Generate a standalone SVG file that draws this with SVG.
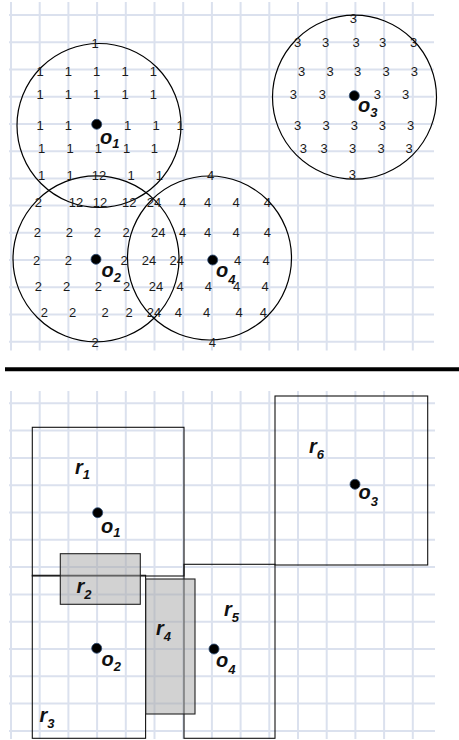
<svg xmlns="http://www.w3.org/2000/svg" width="459" height="740" viewBox="0 0 459 740">
<defs>
<style>
.g{stroke:#dbe1ee;stroke-width:2;fill:none}
.c{fill:none;stroke:#000;stroke-width:1.2}
.n{font-family:"Liberation Sans",Arial,sans-serif;font-size:13px;fill:#1a1a1a;text-anchor:middle}
.l{font-family:"Liberation Sans",Arial,sans-serif;font-size:20px;font-weight:bold;font-style:italic;fill:#111}
.s{font-size:13px}
.d{fill:#000;stroke:#2b4a74;stroke-width:0.8}
.r{fill:none;stroke:#111;stroke-width:1.1}
.h{fill:#a6a6a6;fill-opacity:0.5;stroke:#222;stroke-width:1.1}
</style>
</defs>
<rect width="459" height="740" fill="#fff"/>
<g id="grid-top">
<path class="g" d="M11 2V350.5M39.7 2V350.5M68.4 2V350.5M97.1 2V350.5M125.8 2V350.5M154.5 2V350.5M183.2 2V350.5M211.9 2V350.5M240.6 2V350.5M269.3 2V350.5M298 2V350.5M326.7 2V350.5M355.4 2V350.5M384.1 2V350.5M412.8 2V350.5"/>
<path class="g" d="M9 15H434M9 42.2H434M9 69.5H434M9 96.7H434M9 123.9H434M9 151.2H434M9 178.4H434M9 205.6H434M9 232.8H434M9 260.1H434M9 287.3H434M9 314.5H434M9 341.8H434"/>
</g>
<g id="grid-bottom">
<path class="g" d="M11 391V739M39.7 391V739M68.4 391V739M97.1 391V739M125.8 391V739M154.5 391V739M183.2 391V739M211.9 391V739M240.6 391V739M269.3 391V739M298 391V739M326.7 391V739M355.4 391V739M384.1 391V739M412.8 391V739"/>
<path class="g" d="M9 403.3H435M9 430.6H435M9 457.9H435M9 485.2H435M9 512.5H435M9 539.8H435M9 567.1H435M9 594.4H435M9 621.7H435M9 649H435M9 676.3H435M9 703.6H435M9 730.9H435"/>
</g>
<g id="circles">
<circle class="c" cx="99" cy="125.5" r="82"/>
<circle class="c" cx="354.5" cy="97.2" r="82"/>
<circle class="c" cx="96" cy="258.8" r="83"/>
<circle class="c" cx="209.5" cy="258" r="82"/>
</g>
<g id="numbers">
<text class="n" x="95" y="48">1</text>
<text class="n" x="40" y="75.7">1</text><text class="n" x="68.3" y="75.7">1</text><text class="n" x="96.7" y="75.7">1</text><text class="n" x="125" y="75.7">1</text><text class="n" x="153.3" y="75.7">1</text>
<text class="n" x="40" y="99">1</text><text class="n" x="68.3" y="99">1</text><text class="n" x="96.7" y="99">1</text><text class="n" x="125" y="99">1</text><text class="n" x="153.3" y="99">1</text>
<text class="n" x="40" y="129.7">1</text><text class="n" x="68.3" y="129.7">1</text><text class="n" x="127.7" y="129.7">1</text><text class="n" x="156" y="129.7">1</text><text class="n" x="180" y="129.7">1</text>
<text class="n" x="41.7" y="153">1</text><text class="n" x="70" y="153">1</text><text class="n" x="98.3" y="153">1</text><text class="n" x="126.7" y="153">1</text><text class="n" x="154.3" y="153">1</text>
<text class="n" x="41.7" y="179.7">1</text><text class="n" x="70" y="179.7">1</text><text class="n" x="99" y="179.7">12</text><text class="n" x="131" y="179.7">1</text><text class="n" x="159.3" y="179.7">1</text><text class="n" x="210.5" y="179.7">4</text>
<text class="n" x="38.3" y="207.4">2</text><text class="n" x="76" y="207.4">12</text><text class="n" x="100" y="207.4">12</text><text class="n" x="129.3" y="207.4">12</text><text class="n" x="154" y="207.4">24</text><text class="n" x="182.7" y="207.4">4</text><text class="n" x="207.5" y="207.4">4</text><text class="n" x="236" y="207.4">4</text><text class="n" x="267.3" y="207.4">4</text>
<text class="n" x="37.3" y="237.4">2</text><text class="n" x="69.3" y="237.4">2</text><text class="n" x="97.3" y="237.4">2</text><text class="n" x="126" y="237.4">2</text><text class="n" x="158.3" y="237.4">24</text><text class="n" x="182.7" y="237.4">4</text><text class="n" x="207.5" y="237.4">4</text><text class="n" x="236" y="237.4">4</text><text class="n" x="267.3" y="237.4">4</text>
<text class="n" x="36.7" y="264.7">2</text><text class="n" x="68.3" y="264.7">2</text><text class="n" x="124" y="264.7">2</text><text class="n" x="149" y="264.7">24</text><text class="n" x="176.7" y="264.7">24</text><text class="n" x="237.7" y="264.7">4</text><text class="n" x="266" y="264.7">4</text>
<text class="n" x="38.3" y="291.4">2</text><text class="n" x="66.7" y="291.4">2</text><text class="n" x="98.3" y="291.4">2</text><text class="n" x="126.7" y="291.4">2</text><text class="n" x="156" y="291.4">24</text><text class="n" x="180" y="291.4">4</text><text class="n" x="208.3" y="291.4">4</text><text class="n" x="236.7" y="291.4">4</text><text class="n" x="265" y="291.4">4</text>
<text class="n" x="44.3" y="317.4">2</text><text class="n" x="72.7" y="317.4">2</text><text class="n" x="105" y="317.4">2</text><text class="n" x="129" y="317.4">2</text><text class="n" x="154" y="317.4">24</text><text class="n" x="178.3" y="317.4">4</text><text class="n" x="206.7" y="317.4">4</text><text class="n" x="239" y="317.4">4</text><text class="n" x="263.3" y="317.4">4</text>
<text class="n" x="95" y="347.4">2</text><text class="n" x="212.3" y="347.4">4</text>
<text class="n" x="353.3" y="23">3</text>
<text class="n" x="297.7" y="47.4">3</text><text class="n" x="325.7" y="47.4">3</text><text class="n" x="356" y="47.4">3</text><text class="n" x="382.7" y="47.4">3</text><text class="n" x="413.5" y="47.4">3</text>
<text class="n" x="301.7" y="75.7">3</text><text class="n" x="330" y="75.7">3</text><text class="n" x="357.7" y="75.7">3</text><text class="n" x="386" y="75.7">3</text><text class="n" x="414.3" y="75.7">3</text>
<text class="n" x="293.3" y="99">3</text><text class="n" x="322.3" y="99">3</text><text class="n" x="377.3" y="99">3</text><text class="n" x="405.7" y="99">3</text>
<text class="n" x="297.7" y="129.7">3</text><text class="n" x="326" y="129.7">3</text><text class="n" x="354.3" y="129.7">3</text><text class="n" x="382.3" y="129.7">3</text><text class="n" x="410.7" y="129.7">3</text>
<text class="n" x="303.3" y="153">3</text><text class="n" x="324" y="153">3</text><text class="n" x="352.7" y="153">3</text><text class="n" x="381" y="153">3</text><text class="n" x="409" y="153">3</text>
<text class="n" x="352.3" y="178.7">3</text>
</g>
<g id="o1-top"><circle class="d" cx="96.7" cy="124.3" r="5"/><text class="l" x="100" y="143.5">o<tspan class="s" dy="4">1</tspan></text></g>
<g id="o3-top"><circle class="d" cx="354.3" cy="95.7" r="5"/><text class="l" x="358" y="111.5">o<tspan class="s" dy="5.5">3</tspan></text></g>
<g id="o2-top"><circle class="d" cx="96" cy="259.3" r="5"/><text class="l" x="101.5" y="277">o<tspan class="s" dy="4.5">2</tspan></text></g>
<g id="o4-top"><circle class="d" cx="212.7" cy="260" r="5"/><text class="l" x="216" y="277">o<tspan class="s" dy="7">4</tspan></text></g>
<path id="divider" d="M5 369.2H459" stroke="#000" stroke-width="4"/>
<g id="r1"><rect class="r" x="32.3" y="427.3" width="151.7" height="148.7"/><text class="l" x="75" y="474">r<tspan class="s" dy="5">1</tspan></text></g>
<g id="r3"><rect class="r" x="32.3" y="575.3" width="113.3" height="163"/><text class="l" x="39.5" y="721.5">r<tspan class="s" dy="6">3</tspan></text></g>
<g id="r5"><rect class="r" x="184" y="564.3" width="91" height="174"/><text class="l" x="224" y="616">r<tspan class="s" dy="6">5</tspan></text></g>
<g id="r6"><rect class="r" x="275" y="396" width="152.7" height="169"/><text class="l" x="309" y="453">r<tspan class="s" dy="6">6</tspan></text></g>
<g id="r2"><rect class="h" x="60.3" y="553.7" width="80" height="50.6"/><text class="l" x="76.5" y="593">r<tspan class="s" dy="6">2</tspan></text></g>
<g id="r4"><rect class="h" x="145.7" y="579" width="49.3" height="135"/><text class="l" x="156" y="635">r<tspan class="s" dy="6">4</tspan></text></g>
<g id="o1"><circle class="d" cx="97.7" cy="512.7" r="5"/><text class="l" x="101" y="533">o<tspan class="s" dy="4">1</tspan></text></g>
<g id="o3"><circle class="d" cx="355" cy="484.3" r="5"/><text class="l" x="358.5" y="499">o<tspan class="s" dy="7">3</tspan></text></g>
<g id="o2"><circle class="d" cx="96.7" cy="648.3" r="5"/><text class="l" x="101.5" y="666">o<tspan class="s" dy="5">2</tspan></text></g>
<g id="o4"><circle class="d" cx="214" cy="649" r="5"/><text class="l" x="216" y="667">o<tspan class="s" dy="7">4</tspan></text></g>
</svg>
